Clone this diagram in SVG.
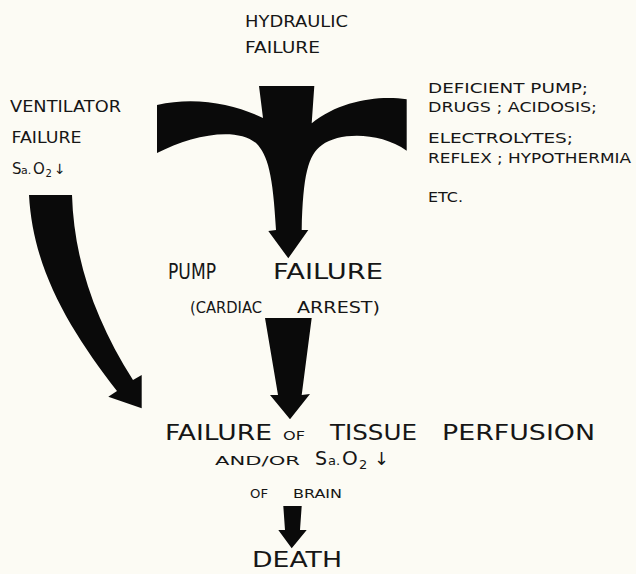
<svg xmlns="http://www.w3.org/2000/svg" width="636" height="574" viewBox="0 0 636 574">
<style>
text{font-family:"DejaVu Sans","Liberation Sans",sans-serif;fill:#161616}
.s{font-size:14px}
.m{font-size:15px}
.l{font-size:22px}
.xs{font-size:12px}
.shape{fill:#0a0a0a}
</style>
<rect width="636" height="574" fill="#fcfbf4"/>
<g id="connectors">
<path class="shape" d="M259,86 L263,118 C235,104 195,96 157,105 L157,153 C190,136 235,126 256,143 C268,155 273,175 276,230 L268.3,231 L288.3,258.3 L308.3,230 L301.7,230 C303,175 308,155 322,145 C340,132 380,132 406.7,150.7 L406.7,99.3 C380,95 340,100 311.7,123.3 L314.3,86 Z"/>
<path class="shape" d="M29,195 L72,195 C74,260 95,320 133,380 L141.7,375 L141.7,408.3 L108.3,396.7 L117,391 C70,330 33,270 29,195 Z"/>
<path class="shape" d="M265,318 L311.7,318 L301.7,395 L310,394 L290,419.3 L270,395 L278,395 Z"/>
<path class="shape" d="M283.3,506 L301.7,506 L300,530 L306.7,530 L291.7,548.3 L278.3,530 L285,530 Z"/>
</g>
<g id="hydraulic">
<text class="m" x="245" y="27" textLength="103" lengthAdjust="spacingAndGlyphs">HYDRAULIC</text>
<text class="m" x="245" y="53" textLength="75" lengthAdjust="spacingAndGlyphs">FAILURE</text>
</g>
<g id="ventilator">
<text class="m" x="10" y="112" textLength="111" lengthAdjust="spacingAndGlyphs">VENTILATOR</text>
<text class="m" x="11.5" y="143" textLength="70" lengthAdjust="spacingAndGlyphs">FAILURE</text>
<text y="174"><tspan x="12" style="font-size:15px">S</tspan><tspan x="21" style="font-size:11px">a.</tspan><tspan x="33" style="font-size:15px">O</tspan><tspan x="45.5" style="font-size:10px" dy="3">2</tspan><tspan x="54" style="font-size:14px" dy="-3">↓</tspan></text>
</g>
<g id="causes">
<text class="s" x="428" y="93" textLength="160" lengthAdjust="spacingAndGlyphs">DEFICIENT PUMP;</text>
<text class="s" x="428" y="112" textLength="169" lengthAdjust="spacingAndGlyphs">DRUGS ; ACIDOSIS;</text>
<text class="s" x="428" y="143" textLength="145" lengthAdjust="spacingAndGlyphs">ELECTROLYTES;</text>
<text class="s" x="428" y="163" textLength="203" lengthAdjust="spacingAndGlyphs">REFLEX ; HYPOTHERMIA</text>
<text class="s" x="428" y="202" textLength="35" lengthAdjust="spacingAndGlyphs">ETC.</text>
</g>
<g id="pump">
<text class="l" x="168" y="279" textLength="48" lengthAdjust="spacingAndGlyphs">PUMP</text>
<text class="l" x="273" y="279" textLength="110" lengthAdjust="spacingAndGlyphs">FAILURE</text>
<text class="m" x="190" y="313" textLength="72" lengthAdjust="spacingAndGlyphs">(CARDIAC</text>
<text class="m" x="297" y="313" textLength="83" lengthAdjust="spacingAndGlyphs">ARREST)</text>
</g>
<g id="perfusion">
<text class="l" x="165" y="440" textLength="107" lengthAdjust="spacingAndGlyphs">FAILURE</text>
<text class="xs" x="283" y="440" textLength="22" lengthAdjust="spacingAndGlyphs">OF</text>
<text class="l" x="330" y="440" textLength="87" lengthAdjust="spacingAndGlyphs">TISSUE</text>
<text class="l" x="442" y="440" textLength="153" lengthAdjust="spacingAndGlyphs">PERFUSION</text>
<text class="xs" x="215" y="465" textLength="85" lengthAdjust="spacingAndGlyphs">AND/OR</text>
<text y="465"><tspan x="315" style="font-size:19px">S</tspan><tspan x="328" style="font-size:13px">a.</tspan><tspan x="342" style="font-size:20px">O</tspan><tspan x="359" style="font-size:13px" dy="4">2</tspan><tspan x="374" style="font-size:18px" dy="-4">↓</tspan></text>
<text class="xs" x="250" y="498" textLength="18" lengthAdjust="spacingAndGlyphs">OF</text>
<text class="xs" x="293" y="498" textLength="49" lengthAdjust="spacingAndGlyphs">BRAIN</text>
</g>
<g id="death">
<text class="l" x="252" y="567" textLength="90" lengthAdjust="spacingAndGlyphs">DEATH</text>
</g>
</svg>
